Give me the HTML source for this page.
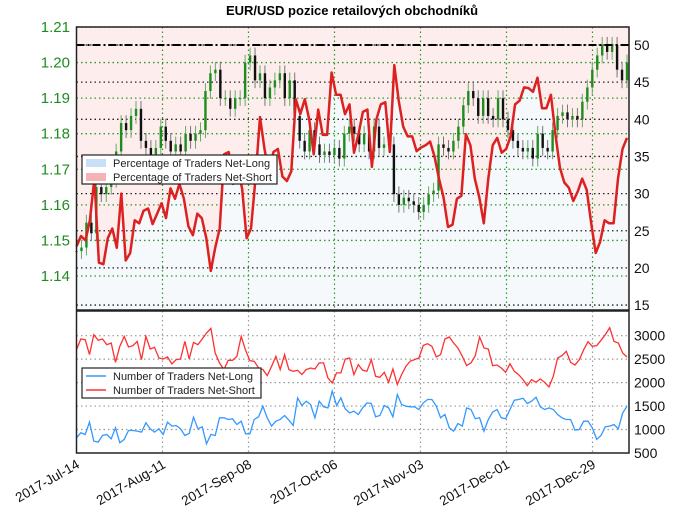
<!DOCTYPE html>
<html><head><meta charset="utf-8"><style>
body{margin:0;background:#fff;}
svg{display:block;font-family:"Liberation Sans",sans-serif;}
</style></head><body>
<svg id="chart" width="680" height="518" viewBox="0 0 680 518"></svg>
<script>
const dateTicks=["2017-Jul-14","2017-Aug-11","2017-Sep-08","2017-Oct-06","2017-Nov-03","2017-Dec-01","2017-Dec-29"];
const priceTicks=[1.14,1.15,1.16,1.17,1.18,1.19,1.20,1.21];
const pctTicks=[15,20,25,30,35,40,45,50];
const countTicks=[500,1000,1500,2000,2500,3000];
const closes=[1.147,1.148,1.155,1.152,1.165,1.163,1.165,1.167,1.175,1.183,1.181,1.185,1.187,1.178,1.176,1.174,1.176,1.182,1.178,1.175,1.177,1.175,1.180,1.178,1.180,1.181,1.192,1.197,1.198,1.190,1.190,1.187,1.190,1.190,1.200,1.202,1.195,1.197,1.190,1.193,1.195,1.197,1.190,1.195,1.185,1.178,1.175,1.181,1.177,1.174,1.175,1.174,1.176,1.173,1.180,1.182,1.180,1.177,1.180,1.175,1.182,1.176,1.177,1.177,1.163,1.160,1.162,1.161,1.160,1.158,1.160,1.163,1.164,1.177,1.176,1.175,1.178,1.182,1.188,1.192,1.190,1.185,1.190,1.185,1.184,1.190,1.184,1.181,1.178,1.176,1.175,1.176,1.173,1.180,1.176,1.175,1.181,1.185,1.186,1.184,1.185,1.184,1.189,1.193,1.198,1.202,1.205,1.203,1.205,1.198,1.195,1.200];
const pctShort=[22.9,24.3,23.7,26.4,32,20.7,20.5,24,25.3,22.7,30,21,22,26.4,26,27.7,28,25.9,27.3,28.7,26.7,30.7,29.3,31.3,29.3,25.6,24.4,27.3,26.7,24,19.6,22.7,25.3,35.3,35.6,31.3,33.3,30.7,24,25.3,32,40.3,36,32.7,35.6,36,32.3,31.7,33,42.7,40.7,42.7,40,35.3,41.3,37.9,37.9,46.3,43.3,43.3,40.7,
42,35.5,38,41,41.3,33.6,40,42,42.3,35.6,47.3,42.5,39,37.7,37.7,35.7,36.2,36.5,37,35,32,29.5,25.5,25.8,29.3,29.7,38,36.5,32,29.5,26,32,36.5,37.5,35.5,36,37.7,42,42.5,44.3,44.2,43.7,45.6,41.5,41.5,43.3,38,33.5,31.5,30.8,29,30.3,32,30.5,26,22,23.5,26.4,26,26,32,36,37.5];
const netShort=[2702,2929,2915,2596,3021,2901,2929,2809,2844,2433,2773,2986,2759,2787,2879,2490,2986,2716,2752,2525,2504,2546,2397,2490,2504,2879,2504,2858,2809,2929,3057,3156,2631,2419,2277,2475,2475,2560,2986,2688,2468,2454,2312,2277,2149,2348,2560,2277,2596,2277,2241,2263,2170,2277,2312,2291,2419,2419,2100,1993,2206,2206,2504,2525,2170,2383,2263,2241,2490,2135,2114,2220,2007,2291,1958,2170,2348,2461,2490,2525,2794,2830,2773,2546,2596,2929,2972,2844,2738,2560,2362,2419,2575,2972,2738,2716,2362,2376,2312,2220,2404,2241,2170,2064,1936,2064,2007,2078,2007,1908,2135,2525,2575,2667,2433,2376,2490,2702,2872,2773,2787,2901,3021,3170,2879,2844,2631,2546];
const netLong=[823,930,894,1157,752,731,873,894,802,1036,717,788,979,979,965,944,1142,1015,944,1015,894,1157,1072,1086,1015,873,916,1263,1015,1057,696,894,873,1249,1249,1213,1228,1107,1178,908,908,1213,1270,1497,1249,1072,1178,1213,1298,1199,1086,1674,1511,1603,1532,1249,1603,1483,1461,1816,1511,1674,1440,1355,1391,1320,1461,1568,1554,1270,1298,1511,1461,1270,1745,1532,1497,1483,1483,1426,1568,1639,1639,1497,1249,1320,1036,965,1128,1072,1461,1426,1228,1249,965,1213,1369,1426,1249,1228,1426,1625,1639,1667,1554,1603,1688,1483,1426,1461,1426,1320,1249,1213,1213,986,1001,1178,1178,1036,788,873,1057,1072,1107,1015,1355,1497];

const NS="http://www.w3.org/2000/svg";
const svg=document.getElementById('chart');
function mk(tag,attrs,parent){const e=document.createElementNS(NS,tag);for(const k in attrs)e.setAttribute(k,attrs[k]);(parent||svg).appendChild(e);return e;}
const L=76.5,R=629,T1=27,B1=310,T2=311,B2=453;
const xDate=i=>L+i*86;
const xSeries=(i,n)=>L+i*(627-L)/(n-1);
const yPrice=p=>27+(1.21-p)*3557;
const yPct=v=>45+(50-v)*7.43;
const yCnt=v=>335.7+(3000-v)*0.0469;

const bg=mk('rect',{x:L,y:T1,width:R-L,height:B1-T1,fill:'#fdeded'});

let pts=pctShort.map((v,i)=>xSeries(i,pctShort.length).toFixed(1)+','+yPct(v).toFixed(1));
const below=mk('polygon',{points:pts.join(' ')+' '+(627)+','+B1+' '+L+','+B1,fill:'#f5f9fc'});

mk('rect',{x:L,y:T2,width:R-L,height:B2-T2,fill:'#fff'});

pctTicks.forEach(v=>{const g=mk('line',{x1:L,x2:R,y1:yPct(v),y2:yPct(v),stroke:'#222','stroke-width':1.3,'stroke-dasharray':'1.5,3'});
});
priceTicks.forEach(v=>{const g=mk('line',{x1:L,x2:R,y1:yPrice(v),y2:yPrice(v),stroke:'#2a9a2a','stroke-width':1.3,'stroke-dasharray':'1.5,3'});
});
dateTicks.forEach((d,i)=>{if(i==0)return;const g=mk('line',{x1:xDate(i),x2:xDate(i),y1:T1,y2:B1,stroke:'#2a9a2a','stroke-width':1.2,'stroke-dasharray':'1.5,3'});

const g2=mk('line',{x1:xDate(i),x2:xDate(i),y1:T2,y2:B2,stroke:'#999','stroke-width':1.2,'stroke-dasharray':'1.5,3'});
});
countTicks.forEach(v=>{if(v==500)return;const g=mk('line',{x1:L,x2:R,y1:yCnt(v),y2:yCnt(v),stroke:'#999','stroke-width':1.2,'stroke-dasharray':'1.5,3'});
});

closes.forEach((c,i)=>{const o=i?closes[i-1]:c;const x=xSeries(i,closes.length);
const up=c>=o;const col=up?'#1e8c1e':'#111';
const w=mk('line',{x1:x,x2:x,y1:yPrice(Math.max(o,c)+0.0022),y2:yPrice(Math.min(o,c)-0.0022),stroke:up?'#6aa86a':'#777','stroke-width':1});

const b=mk('rect',{x:x-1.2,y:yPrice(Math.max(o,c)),width:2.4,height:Math.max(1,Math.abs(yPrice(o)-yPrice(c))),fill:col});
});

const fl=mk('line',{x1:L,x2:R,y1:yPct(50),y2:yPct(50),stroke:'#000','stroke-width':2,'stroke-dasharray':'8,3,2,3'});


const pl=mk('polyline',{points:pts.join(' '),fill:'none',stroke:'#dd2020','stroke-width':2.5,'stroke-linejoin':'round'});


const sp=netShort.map((v,i)=>xSeries(i,netShort.length).toFixed(1)+','+yCnt(v).toFixed(1)).join(' ');
const sl=mk('polyline',{points:sp,fill:'none',stroke:'#ff3030','stroke-width':1.3});

const lp=netLong.map((v,i)=>xSeries(i,netLong.length).toFixed(1)+','+yCnt(v).toFixed(1)).join(' ');
const ll=mk('polyline',{points:lp,fill:'none',stroke:'#3399ff','stroke-width':1.3});


const f1=mk('rect',{x:L,y:T1,width:R-L,height:B1-T1,fill:'none',stroke:'#222','stroke-width':1.5});

const f2=mk('rect',{x:L,y:T2,width:R-L,height:B2-T2,fill:'none',stroke:'#222','stroke-width':1.5});


priceTicks.forEach(v=>{const t=mk('text',{x:70,y:yPrice(v)+5,'text-anchor':'end','font-size':15,fill:'#1e8c1e'});t.textContent=v.toFixed(2);
});
pctTicks.forEach(v=>{const t=mk('text',{x:634,y:yPct(v)+5,'font-size':14,fill:'#111'});t.textContent=v;
});
countTicks.forEach(v=>{const t=mk('text',{x:634,y:yCnt(v)+5,'font-size':14,fill:'#111'});t.textContent=v;
});
dateTicks.forEach((d,i)=>{const x=xDate(i)+4,y=467;const t=mk('text',{x:x,y:y,'text-anchor':'end','font-size':13.5,fill:'#111',transform:`rotate(-30 ${x} ${y})`});t.textContent=d;
});

const ti=mk('text',{x:352,y:15,'text-anchor':'middle','font-size':13,'font-weight':'bold',fill:'#000'});ti.textContent='EUR/USD pozice retailových obchodníků';


function legend(name,x,y,w,h,items,swatch){const g=mk('g',{});
mk('rect',{x:x,y:y,width:w,height:h,fill:'#fff',stroke:'#222','stroke-width':1.2},g);
items.forEach((it,k)=>{const cy=y+8+k*14;
if(swatch==='box')mk('rect',{x:x+4,y:cy-4,width:20,height:8,fill:it[1]},g);
else mk('line',{x1:x+4,x2:x+24,y1:cy,y2:cy,stroke:it[1],'stroke-width':1.5},g);
const t=mk('text',{x:x+31,y:cy+4,'font-size':11,fill:'#222'},g);t.textContent=it[0];
});}
legend('pct-legend',82,155,195,29,[['Percentage of Traders Net-Long','#c8dff7'],['Percentage of Traders Net-Short','#f7b3b3']],'box');
legend('count-legend',82,368,179,30,[['Number of Traders Net-Long','#3399ff'],['Number of Traders Net-Short','#ff3030']],'line');
</script>
</body></html>
